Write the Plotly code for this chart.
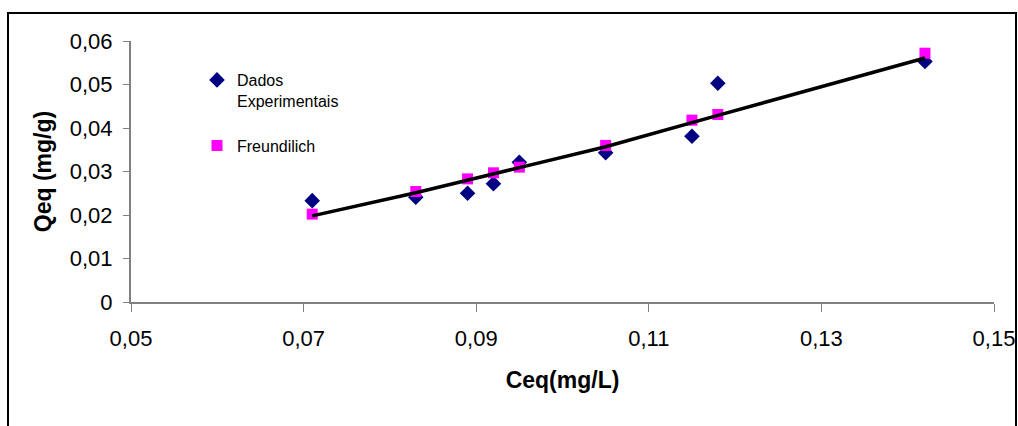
import plotly.graph_objects as go

# Data
ceq = [0.071, 0.083, 0.089, 0.092, 0.095, 0.105, 0.115, 0.118, 0.142]
qeq_exp = [0.0233, 0.0241, 0.0250, 0.0272, 0.0321, 0.0343, 0.0381, 0.0503, 0.0553]
qeq_freundlich = [0.0202, 0.0254, 0.0283, 0.0297, 0.0310, 0.0360, 0.0418, 0.0431, 0.0572]

# Fitted model curve (black line)
curve_x = [0.071, 0.083, 0.095, 0.105, 0.118, 0.130, 0.142]
curve_y = [0.0198, 0.0251, 0.0309, 0.0357, 0.0429, 0.0494, 0.0561]

x_ticks = [0.05, 0.07, 0.09, 0.11, 0.13, 0.15]
y_ticks = [0, 0.01, 0.02, 0.03, 0.04, 0.05, 0.06]

FONT = "Liberation Sans, Arial, sans-serif"

fig = go.Figure()
fig.add_trace(go.Scatter(
    x=ceq, y=qeq_exp, mode="markers", name="Dados<br>Experimentais",
    legendgroup="a",
    marker=dict(symbol="diamond", size=12, color="#000080"),
))
fig.add_trace(go.Scatter(
    x=ceq, y=qeq_freundlich, mode="markers", name="Freundilich",
    legendgroup="b",
    marker=dict(symbol="square", size=11, color="#FF00FF"),
))
fig.add_trace(go.Scatter(
    x=curve_x, y=curve_y, mode="lines", showlegend=False,
    line=dict(color="black", width=3.5),
))

W, H = 1018, 426
L, R, T, B = 131, 24, 41, 124
pw, ph = W - L - R, H - T - B

def px(xp):
    return (xp - L) / pw

def py(yp):
    return (H - B - yp) / ph

fig.update_layout(
    width=W, height=H,
    margin=dict(l=L, r=R, t=T, b=B, autoexpand=False),
    paper_bgcolor="white", plot_bgcolor="white",
    separators=", ",
    font=dict(family=FONT, color="black"),
    showlegend=True,
    legend=dict(
        x=px(197), y=py(63), xanchor="left", yanchor="top",
        bgcolor="rgba(0,0,0,0)", font=dict(size=16, family=FONT, color="black"),
        valign="top", traceorder="grouped", tracegroupgap=21,
    ),
    xaxis=dict(
        range=[0.05, 0.15], tickvals=x_ticks, tickformat=".2f",
        automargin=False,
        showgrid=False, zeroline=False,
        showline=True, linecolor="#808080", linewidth=2,
        ticks="outside", ticklen=8, tickcolor="#808080", tickwidth=1,
        tickfont=dict(size=22, family=FONT, color="black"),
        ticklabelstandoff=8,
        title=dict(text="<b>Ceq(mg/L)</b>", font=dict(size=23, family=FONT, color="black"), standoff=21),
    ),
    yaxis=dict(
        range=[0, 0.06], tickvals=y_ticks,
        automargin=False,
        showgrid=False, zeroline=False,
        showline=True, linecolor="#808080", linewidth=2,
        ticks="outside", ticklen=6, tickcolor="#808080", tickwidth=1,
        tickfont=dict(size=22, family=FONT, color="black"),
        ticklabelstandoff=6,
        title=dict(text="<b>Qeq (mg/g)</b>", font=dict(size=23, family=FONT, color="black"), standoff=12),
    ),
    shapes=[dict(
        type="rect", xref="paper", yref="paper",
        x0=px(8), x1=px(1016), y0=py(600), y1=py(13),
        line=dict(color="black", width=2), fillcolor="rgba(0,0,0,0)", layer="below",
    )],
)

fig.write_html("out.html")
